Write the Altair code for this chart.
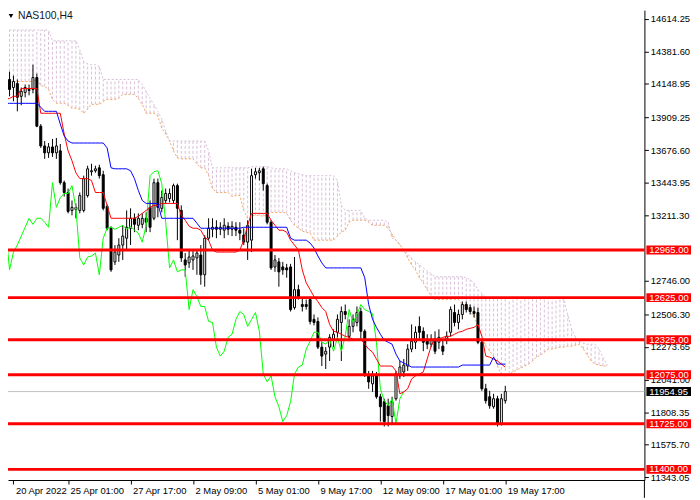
import json
import altair as alt
import pandas as pd

# ---------------- data ----------------
opens = [14110, 14181, 14124, 14152, 14061, 14089, 14110, 14110, 14195, 13848,
         13707, 13658, 13700, 13658, 13672, 13445, 13375, 13247, 13254, 13247,
         13247, 13353, 13523, 13530, 13551, 13502, 13276, 13120, 12880, 12929,
         13000, 13049, 13120, 13191, 13141, 13148, 13191, 13269, 13191, 13445,
         13262, 13318, 13332, 13318, 13424, 13247, 12894, 12873, 12894, 12908,
         12929, 12788, 13049, 13113, 13127, 13113, 13106, 13134, 13113, 13127,
         13106, 13071, 13021, 13035, 13502, 13516, 13544, 13424, 13163, 12844,
         12880, 12844, 12837, 12844, 12554, 12682, 12576, 12576, 12611, 12470,
         12455, 12272, 12222, 12272, 12328, 12378, 12448, 12526, 12349, 12420,
         12448, 12526, 12385, 12067, 12010, 12067, 11918, 11883, 11854, 11777,
         11904, 12067, 12095, 12137, 12258, 12307, 12420, 12385, 12328, 12293,
         12328, 12307, 12279, 12328, 12378, 12519, 12448, 12505, 12576, 12554,
         12526, 12519, 12307, 11975, 11918, 11847, 11904, 11727, 11890]
highs = [14273, 14237, 14209, 14181, 14124, 14145, 14145, 14287, 14223, 13863,
         13742, 13728, 13757, 13764, 13721, 13460, 13403, 13318, 13297, 13375,
         13495, 13566, 13580, 13566, 13573, 13530, 13290, 13134, 13000, 13049,
         13141, 13247, 13262, 13226, 13226, 13226, 13233, 13318, 13474, 13474,
         13389, 13403, 13403, 13438, 13438, 13283, 12943, 12964, 12964, 12964,
         13000, 13071, 13191, 13191, 13177, 13163, 13191, 13163, 13170, 13163,
         13163, 13120, 13177, 13544, 13551, 13551, 13559, 13438, 13177, 12929,
         12908, 12880, 12866, 12866, 12915, 12717, 12625, 12611, 12632, 12505,
         12484, 12307, 12272, 12364, 12399, 12505, 12562, 12576, 12470, 12505,
         12562, 12554, 12399, 12102, 12102, 12095, 11939, 11904, 11904, 11918,
         12102, 12173, 12187, 12293, 12434, 12420, 12491, 12413, 12364, 12364,
         12385, 12399, 12328, 12385, 12562, 12576, 12540, 12597, 12597, 12576,
         12562, 12554, 12328, 12010, 11960, 11939, 11925, 11939, 11996]
lows = [14082, 14061, 14025, 13954, 13997, 14054, 14068, 14082, 13841, 13693,
        13615, 13622, 13629, 13615, 13431, 13346, 13226, 13212, 13191, 13226,
        13233, 13339, 13495, 13516, 13474, 13247, 13106, 12809, 12858, 12880,
        12894, 12964, 13000, 13092, 13106, 13120, 13092, 13092, 13177, 13198,
        13233, 13297, 13304, 13297, 13035, 12880, 12774, 12837, 12823, 12788,
        12717, 12703, 13035, 13056, 13049, 13071, 13049, 13071, 13064, 13064,
        13035, 13000, 12894, 12950, 13474, 13460, 13389, 13148, 12823, 12809,
        12703, 12788, 12767, 12526, 12540, 12611, 12526, 12540, 12434, 12427,
        12258, 12137, 12116, 12173, 12272, 12328, 12173, 12470, 12314, 12378,
        12420, 12328, 12059, 11975, 11953, 11904, 11741, 11706, 11706, 11727,
        11890, 12045, 12059, 12102, 12236, 12258, 12328, 12243, 12258, 12272,
        12222, 12258, 12215, 12293, 12349, 12420, 12399, 12470, 12519, 12505,
        12484, 12293, 11960, 11869, 11833, 11833, 11706, 11713, 11869]
closes = [14195, 14110, 14167, 14054, 14096, 14124, 14103, 14195, 13848, 13707,
          13658, 13700, 13658, 13707, 13445, 13375, 13240, 13269, 13269, 13353,
          13474, 13544, 13530, 13544, 13495, 13262, 13120, 12823, 12950, 13000,
          13064, 13127, 13191, 13148, 13191, 13191, 13163, 13127, 13445, 13269,
          13339, 13368, 13368, 13424, 13262, 12908, 12858, 12915, 12922, 12943,
          12788, 13049, 13120, 13127, 13113, 13127, 13141, 13113, 13134, 13106,
          13085, 13021, 13141, 13495, 13523, 13530, 13438, 13163, 12837, 12894,
          12809, 12823, 12823, 12540, 12682, 12632, 12562, 12562, 12455, 12448,
          12272, 12208, 12243, 12342, 12364, 12470, 12526, 12505, 12420, 12470,
          12519, 12385, 12081, 12024, 12067, 11918, 11847, 11741, 11784, 11883,
          12081, 12130, 12144, 12258, 12314, 12378, 12378, 12307, 12293, 12328,
          12243, 12342, 12243, 12349, 12540, 12448, 12505, 12576, 12540, 12526,
          12512, 12307, 11975, 11890, 11854, 11904, 11727, 11904, 11954.95]

tenkan = [14039, 14046, 14061, 14061, 14117, 14117, 14117, 14117, 14117, 13940,
          13940, 13940, 13940, 13940, 13940, 13792, 13672, 13601, 13516, 13474,
          13474, 13474, 13460, 13375, 13375, 13375, 13283, 13191, 13191, 13191,
          13191, 13191, 13191, 13191, 13205, 13226, 13247, 13269, 13283, 13283,
          13297, 13297, 13297, 13297, 13297, 13212, 13177, 13134, 13120, 13120,
          13106, 13056, 13035, 12964, 12950, 12950, 12950, 12950, 12950, 12950,
          12964, 13035, 13141, 13226, 13226, 13226, 13226, 13226, 13177, 13141,
          13106, 13106, 13092, 13035, 13000, 12964, 12823, 12731, 12682, 12632,
          12597, 12554, 12526, 12434, 12385, 12378, 12364, 12349, 12342, 12328,
          12328, 12328, 12293, 12258, 12236, 12187, 12137, 12137, 12137, 12137,
          12102, 11939, 11953, 11975, 12045, 12067, 12081, 12095, 12187, 12279,
          12328, 12328, 12342, 12349, 12349, 12364, 12378, 12385, 12399, 12406,
          12413, 12434, 12349, 12208, 12201, 12187, 12173, 12151, 12130]

kijun = [14011, 14011, 14011, 14011, 14011, 14011, 14011, 14011, 14011, 13983,
         13954, 13954, 13954, 13954, 13863, 13778, 13742, 13728, 13728, 13728,
         13728, 13728, 13728, 13728, 13728, 13728, 13693, 13551, 13544, 13544,
         13544, 13544, 13530, 13474, 13389, 13318, 13297, 13297, 13297, 13297,
         13191, 13191, 13191, 13191, 13191, 13191, 13191, 13191, 13191, 13156,
         13120, 13120, 13120, 13120, 13120, 13120, 13120, 13120, 13120, 13120,
         13120, 13127, 13127, 13127, 13127, 13127, 13127, 13127, 13127, 13127,
         13127, 13127, 13127, 13049, 13035, 13035, 13035, 13035, 13014, 12979,
         12922, 12873, 12837, 12837, 12837, 12837, 12837, 12837, 12837, 12837,
         12837, 12837, 12767, 12576, 12470, 12413, 12364, 12321, 12307, 12293,
         12222, 12173, 12159, 12144, 12130, 12130, 12130, 12130, 12130, 12130,
         12130, 12130, 12130, 12130, 12130, 12130, 12130, 12144, 12144, 12144,
         12144, 12144, 12144, 12144, 12144, 12201, 12151, 12151, 12151]

span_a = [14167, 14167, 14167, 14167, 14167, 14167, 14167, 14167, 14181, 14138,
          14131, 14110, 14039, 14011, 14011, 14011, 13997, 13976, 13976, 13969,
          13940, 13969, 14004, 14004, 14004, 14025, 14039, 14039, 14039, 14046,
          14075, 14075, 14075, 14075, 14046, 14004, 13940, 13940, 13940, 13919,
          13834, 13792, 13742, 13672, 13622, 13615, 13615, 13615, 13615, 13580,
          13551, 13551, 13495, 13403, 13375, 13375, 13375, 13375, 13346, 13353,
          13353, 13247, 13191, 13212, 13212, 13212, 13205, 13219, 13233, 13233,
          13233, 13233, 13226, 13177, 13141, 13120, 13099, 13092, 13085, 13035,
          13035, 13035, 13035, 13035, 13035, 13064, 13092, 13106, 13163, 13177,
          13177, 13177, 13177, 13163, 13141, 13141, 13141, 13141, 13120, 13078,
          13035, 13000, 12964, 12908, 12858, 12823, 12767, 12731, 12682, 12639,
          12611, 12611, 12611, 12611, 12611, 12611, 12611, 12576, 12562, 12526,
          12491, 12420, 12349, 12279, 12243, 12208, 12137, 12074, 12067, 12081,
          12095, 12109, 12123, 12137, 12151, 12173, 12201, 12215, 12236, 12258,
          12258, 12265, 12272, 12272, 12279, 12279, 12286, 12293, 12258, 12215,
          12173, 12151, 12144, 12137, 12137]

span_b = [14534, 14534, 14534, 14534, 14534, 14534, 14534, 14534, 14534, 14534,
          14534, 14534, 14457, 14457, 14457, 14457, 14457, 14457, 14457, 14393,
          14308, 14294, 14287, 14287, 14273, 14181, 14181, 14181, 14181, 14181,
          14181, 14181, 14181, 14181, 14181, 14145, 14096, 14046, 14004, 13954,
          13898, 13813, 13742, 13742, 13742, 13742, 13742, 13742, 13742, 13742,
          13742, 13742, 13672, 13551, 13551, 13551, 13551, 13551, 13551, 13551,
          13551, 13551, 13551, 13559, 13559, 13559, 13559, 13559, 13551, 13544,
          13544, 13544, 13544, 13530, 13516, 13509, 13502, 13495, 13495, 13495,
          13495, 13495, 13495, 13495, 13495, 13460, 13283, 13247, 13247, 13247,
          13247, 13247, 13191, 13177, 13177, 13177, 13177, 13177, 13163, 13049,
          13035, 13007, 12964, 12936, 12908, 12880, 12858, 12837, 12816, 12795,
          12774, 12774, 12774, 12774, 12774, 12774, 12774, 12774, 12767, 12752,
          12731, 12682, 12653, 12625, 12625, 12625, 12625, 12625, 12625, 12625,
          12625, 12625, 12625, 12625, 12625, 12625, 12625, 12625, 12625, 12625,
          12625, 12625, 12625, 12611, 12505, 12399, 12342, 12314, 12300, 12293,
          12293, 12293, 12258, 12201, 12151]

chikou_shift = 26
levels = [12965.00, 12625.00, 12325.00, 12075.00, 11725.00, 11400.00]
last_price = 11954.95
y_ticks = [14614.25, 14381.60, 14148.95, 13909.25, 13676.60, 13443.95, 13211.30,
           12746.00, 12506.30, 12273.65, 12041.00, 11808.35, 11575.70, 11343.05]
x_labels = ["20 Apr 2022", "25 Apr 01:00", "27 Apr 17:00", "2 May 09:00",
            "5 May 01:00", "9 May 17:00", "12 May 09:00", "17 May 01:00",
            "19 May 17:00"]
x_tick_bars = [2, 16, 32, 48, 64, 80, 96, 112, 128]
symbol_title = "NAS100,H4"

# ---------------- tables ----------------
n = len(closes)
bars = pd.DataFrame({
    "i": list(range(n)), "open": opens, "high": highs, "low": lows, "close": closes,
    "dir": ["up" if c >= o else "down" for o, c in zip(opens, closes)],
})
ind = pd.DataFrame({"i": list(range(n)), "tenkan": tenkan, "kijun": kijun})
chikou = pd.DataFrame({"i": list(range(n - chikou_shift)), "v": closes[chikou_shift:]})
cloud = pd.DataFrame({
    "i": list(range(len(span_a))), "a": span_a, "b": span_b,
    "col": ["#F4A460" if a > b else "#D8BFD8" for a, b in zip(span_a, span_b)],
})
lv = pd.DataFrame({"price": levels})
tags = pd.DataFrame({
    "price": levels + [last_price],
    "label": [f"{p:.2f}" for p in levels + [last_price]],
    "bg": ["#ff0000"] * len(levels) + ["#000000"],
})
cur = pd.DataFrame({"price": [last_price]})

FONT = "Liberation Sans"
FS = 9.5

xs = alt.Scale(domain=[1.875, 162.375], nice=False, zero=False)
ys = alt.Scale(domain=[11324.1, 14675.7], nice=False, zero=False)

label_expr = f"{json.dumps(x_labels)}[datum.value < 8 ? 0 : round(datum.value / 16)]"
x_axis = alt.Axis(values=x_tick_bars, labelExpr=label_expr, title=None, orient="bottom",
                  labelAlign="left", labelBaseline="top", labelPadding=2, labelOffset=2,
                  tickSize=4, labelFont=FONT, labelFontSize=FS, labelColor="black",
                  domainColor="black", tickColor="black", grid=False, labelFlush=False,
                  labelOverlap=False, labelBound=False)
y_axis = alt.Axis(orient="right", values=y_ticks, format=".2f", title=None,
                  labelAlign="left", labelBaseline="middle", labelPadding=2, tickSize=4,
                  labelFont=FONT, labelFontSize=FS, labelColor="black",
                  domainColor="black", tickColor="black", grid=False,
                  labelOverlap=False, labelFlush=False, labelBound=False)

def X(field="i"):
    return alt.X(f"{field}:Q", scale=xs, axis=x_axis)

def Y(field):
    return alt.Y(f"{field}:Q", scale=ys, axis=y_axis)

cloud_layer = alt.Chart(cloud).mark_rule(strokeWidth=1, strokeDash=[3, 2], clip=True).encode(
    x=X(), y=Y("a"), y2="b:Q",
    color=alt.Color("col:N", scale=None))
span_a_line = alt.Chart(cloud).mark_line(color="#F4A460", strokeWidth=1, strokeDash=[2, 2], clip=True).encode(
    x=X(), y=Y("a"))
span_b_line = alt.Chart(cloud).mark_line(color="#D8BFD8", strokeWidth=1, strokeDash=[2, 2], clip=True).encode(
    x=X(), y=Y("b"))

cur_line = alt.Chart(cur).mark_rule(color="#c0c0c0", strokeWidth=1).encode(y=Y("price"))

wicks = alt.Chart(bars).mark_rule(color="black", strokeWidth=1, clip=True).encode(
    x=X(), y=Y("low"), y2="high:Q")
bodies = alt.Chart(bars).mark_bar(width=2, stroke="black", strokeWidth=1, clip=True).encode(
    x=X(), y=Y("open"), y2="close:Q",
    fill=alt.Fill("dir:N", scale=alt.Scale(domain=["up", "down"], range=["white", "black"]), legend=None))

chikou_line = alt.Chart(chikou).mark_line(color="#00ff00", strokeWidth=1, clip=True).encode(
    x=X(), y=Y("v"))
tenkan_line = alt.Chart(ind).mark_line(color="#ff0000", strokeWidth=1, clip=True).encode(
    x=X(), y=Y("tenkan"))
kijun_line = alt.Chart(ind).mark_line(color="#0000ff", strokeWidth=1, clip=True).encode(
    x=X(), y=Y("kijun"))

level_rules = alt.Chart(lv).mark_rule(color="#ff0000", strokeWidth=3).encode(y=Y("price"))

# price-scale extension of the right axis line below the time axis
axis_ext = alt.Chart(cur).mark_rule(color="black", strokeWidth=1).encode(
    x=alt.value(642), y=alt.value(474), y2=alt.value(492))

box_path = "M-1,-0.2L1,-0.2L1,0.2L-1,0.2Z"
tag_boxes = alt.Chart(tags).mark_point(shape=box_path, size=2025, filled=True, opacity=1, strokeWidth=0).encode(
    x=alt.value(666.5), y=Y("price"), color=alt.Color("bg:N", scale=None))
tag_text = alt.Chart(tags).mark_text(align="left", baseline="middle", color="white",
                                     font=FONT, fontSize=FS).encode(
    x=alt.value(647), y=Y("price"), text="label:N")

title_df = pd.DataFrame({"t": [symbol_title]})
title_tri = alt.Chart(title_df).mark_point(shape="triangle-down", filled=True, color="black",
                                           size=22, opacity=1).encode(
    x=alt.value(3), y=alt.value(6))
title_txt = alt.Chart(title_df).mark_text(align="left", baseline="middle", color="#101828",
                                          font=FONT, fontSize=10.5).encode(
    x=alt.value(10), y=alt.value(6), text="t:N")

chart = alt.layer(
    cloud_layer, span_a_line, span_b_line, cur_line, wicks, bodies,
    chikou_line, tenkan_line, kijun_line, level_rules, axis_ext, tag_boxes, tag_text,
    title_tri, title_txt,
).properties(
    width=642, height=474,
    autosize=alt.AutoSizeParams(type="none"),
    padding={"left": 0, "top": 0, "right": 48, "bottom": 18},
    background="white",
).configure_view(strokeWidth=0)

chart.save("out.html", embed_options={"renderer": "svg", "actions": False})
